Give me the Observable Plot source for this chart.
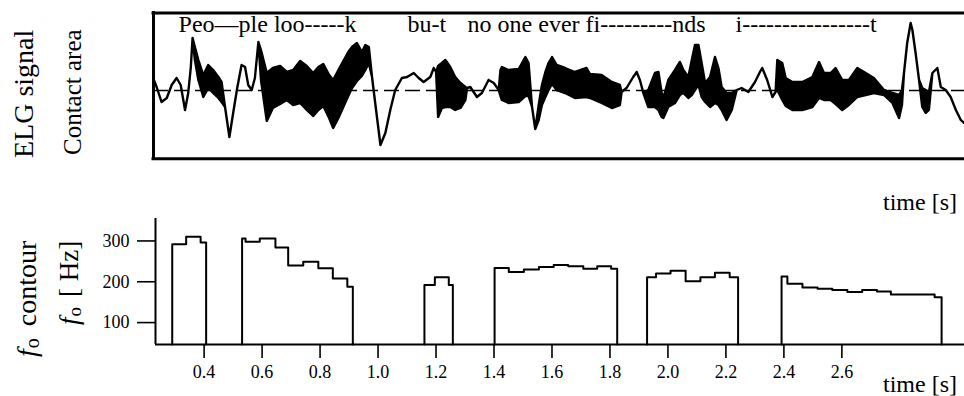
<!DOCTYPE html>
<html><head><meta charset="utf-8">
<script src="https://cdn.jsdelivr.net/npm/d3@7"></script>
<script src="https://cdn.jsdelivr.net/npm/@observablehq/plot@0.6"></script>
<style>
html,body{margin:0;padding:0;background:#fff;}
#wrap{position:relative;width:964px;height:396px;overflow:hidden;background:#fff;}
#wrap svg{position:absolute;left:0;top:0;}
#wrap svg text{font-family:'Liberation Serif','Times New Roman',serif;}
</style></head><body><div id="wrap"></div>
<script>
// ---- ELG signal (contact area): time [s], upper and lower envelope (arbitrary units, 0 = dashed line)
const elgTime = [
 0.226, 0.238, 0.255, 0.273, 0.290, 0.307, 0.321, 0.336, 0.347, 0.356,
 0.362, 0.370, 0.382, 0.399, 0.416, 0.433, 0.451, 0.462, 0.474, 0.489,
 0.502, 0.516, 0.531, 0.543, 0.554, 0.566, 0.577, 0.589, 0.598, 0.618,
 0.639, 0.664, 0.687, 0.709, 0.733, 0.756, 0.778, 0.796, 0.813, 0.833,
 0.847, 0.865, 0.882, 0.899, 0.912, 0.929, 0.946, 0.958, 0.970, 0.981,
 0.992, 1.010, 1.027, 1.044, 1.061, 1.084, 1.102, 1.125, 1.142, 1.159,
 1.182, 1.194, 1.202, 1.209, 1.222, 1.234, 1.251, 1.268, 1.286, 1.303,
 1.309, 1.320, 1.343, 1.360, 1.383, 1.401, 1.418, 1.424, 1.429, 1.452,
 1.487, 1.510, 1.521, 1.533, 1.544, 1.556, 1.567, 1.579, 1.590, 1.602,
 1.618, 1.647, 1.681, 1.721, 1.733, 1.773, 1.808, 1.836, 1.842, 1.859,
 1.882, 1.894, 1.905, 1.917, 1.934, 1.957, 1.969, 1.980, 1.986, 2.003,
 2.026, 2.043, 2.055, 2.072, 2.084, 2.095, 2.107, 2.118, 2.130, 2.147,
 2.164, 2.176, 2.187, 2.204, 2.222, 2.239, 2.256, 2.279, 2.302, 2.319,
 2.327, 2.344, 2.362, 2.373, 2.379, 2.396, 2.408, 2.431, 2.465, 2.500,
 2.523, 2.540, 2.563, 2.580, 2.603, 2.626, 2.655, 2.684, 2.712, 2.747,
 2.776, 2.799, 2.809, 2.816, 2.827, 2.839, 2.845, 2.856, 2.868, 2.879,
 2.891, 2.902, 2.914, 2.931, 2.943, 2.960, 2.977, 2.995, 3.012, 3.023
];
const elgHigh = [
 12, 3, -12, -8, 5, 12, 5, -20, -3, 23,
 52, 43, 30, 15, 25, 20, 13, 8, -17, -47,
 -23, 2, 25, 23, 5, 0, 12, 48, 40, 17,
 22, 24, 18, 20, 29, 24, 17, 23, 26, 15,
 10, 20, 29, 38, 43, 47, 38, 45, 43, 13,
 -13, -55, -43, -20, 0, 12, 13, 17, 12, 8,
 13, 22, 18, 24, 27, 30, 23, 13, 7, 3,
 2, 3, -7, -3, 10, 7, 0, 20, 23, 20,
 21, 33, 27, -17, -39, -15, 5, 18, 27, 33,
 25, 22, 18, 22, 16, 15, 8, 5, -2, 2,
 13, 18, 10, -3, 0, 17, 18, -3, -8, 10,
 20, 28, 20, 13, 30, 45, 45, 27, 7, 13,
 33, 22, 3, -3, -3, 0, 2, -2, 8, 18,
 22, 10, -7, -2, 30, 27, 12, 8, 8, 13,
 28, 17, 17, 22, 10, 10, 22, 17, 12, 0,
 -3, -5, 0, 17, 47, 67, 60, 37, 10, 2,
 0, -2, 17, 22, 3, 0, -7, -20, -30, -33
];
const elgLow = [
 12, 3, -12, -8, 5, 12, 5, -20, -3, 23,
 52, 30, 10, -7, 2, -3, -8, -12, -17, -47,
 -23, 2, 25, 23, 5, 0, 12, 48, 10, -31,
 -18, -14, -10, -15, -13, -20, -26, -20, -16, -28,
 -38, -28, -17, -6, 2, 9, 14, 20, 27, 13,
 -13, -55, -43, -20, 0, 12, 13, 17, 12, 8,
 13, 22, 18, -27, -18, -17, -17, -20, -18, -10,
 2, 3, -7, -3, 10, 7, 0, -6, -10, -13,
 -12, -6, -6, -17, -39, -30, -15, -7, 0, 6,
 0, -3, -8, -7, -8, -13, -18, -15, -2, 2,
 13, 18, 10, -3, -17, -17, -20, -27, -28, -17,
 -13, -5, -3, -8, -5, 0, 5, -7, -12, -17,
 -13, -15, -20, -30, -20, 0, 2, -2, 8, 18,
 22, 10, -7, -2, 0, -10, -16, -20, -20, -17,
 -8, -10, -10, -14, -20, -15, -7, -5, -3, -5,
 -13, -28, -15, 17, 47, 67, 60, 37, 10, -17,
 -23, -20, 17, 22, 3, 0, -7, -20, -30, -33
];
const lyrics = ["Peo\u2014ple loo-----k", "bu-t", "no one ever fi---------nds", "i----------------t"];
const lyricTime = [0.312, 1.102, 1.309, 2.233];

// ---- f0 contour: step start times [s] and f0 [Hz] per voiced stretch
const stepTimes = [
 [0.290, 0.338, 0.388],
 [0.531, 0.543, 0.592, 0.646, 0.690, 0.742, 0.794, 0.844, 0.894],
 [1.160, 1.196, 1.244],
 [1.402, 1.451, 1.503, 1.555, 1.606, 1.656, 1.708, 1.756, 1.804],
 [1.928, 1.959, 2.009, 2.061, 2.112, 2.162, 2.213],
 [2.392, 2.412, 2.464, 2.516, 2.567, 2.619, 2.670, 2.721, 2.769, 2.920]
];
const stepHz = [
 [292, 310, 296],
 [306, 298, 306, 284, 240, 249, 233, 208, 188],
 [192, 211, 192],
 [234, 224, 230, 236, 241, 238, 232, 238, 232],
 [211, 220, 227, 201, 211, 222, 211],
 [213, 195, 186, 183, 180, 175, 180, 176, 169, 162]
];
const voicedEnd = [0.407, 0.913, 1.258, 1.825, 2.242, 2.944];

const xTicks = [0.4, 0.6, 0.8, 1.0, 1.2, 1.4, 1.6, 1.8, 2.0, 2.2, 2.4, 2.6];
const yTicks = [100, 200, 300];

// ---- build
const serif = "'Liberation Serif', 'Times New Roman', serif";
const wrap = document.getElementById("wrap");

const elg = elgTime.map((t, i) => ({t, hi: elgHigh[i], lo: elgLow[i]}));
const topX = [0.2255, 3.023];
const topY = [-68.3, 77.5];

const topPlot = Plot.plot({
  width: 964, height: 396,
  marginLeft: 153, marginRight: 0, marginTop: 12.5, marginBottom: 237.7,
  x: {domain: topX, axis: null, label: null},
  y: {domain: topY, axis: null, label: null},
  style: {background: "transparent", fontFamily: serif, color: "black"},
  marks: [
    Plot.ruleY([0], {stroke: "black", strokeWidth: 1.3, strokeDasharray: "15,6"}),
    Plot.areaY(elg, {x: "t", y1: "lo", y2: "hi", fill: "black", stroke: "black", strokeWidth: 2.4, strokeLinejoin: "round"}),
    Plot.ruleY(topY, {stroke: "black", strokeWidth: 3, strokeLinecap: "square"}),
    Plot.ruleX([topX[0]], {stroke: "black", strokeWidth: 3, strokeLinecap: "square"}),
    Plot.text(lyrics, {x: (d, i) => lyricTime[i], text: d => d, frameAnchor: "top", lineAnchor: "top",
      textAnchor: "start", dy: 1.5, fontSize: 24, fontFamily: serif, fill: "black"})
  ]
});
wrap.appendChild(topPlot);

const botX = [0.2323, 3.023];
const botY = [46.3, 355];
const f0 = [];
stepTimes.forEach((ts, k) => {
  f0.push({k, t: ts[0], f: botY[0]});
  ts.forEach((t, j) => f0.push({k, t, f: stepHz[k][j]}));
  f0.push({k, t: voicedEnd[k], f: botY[0]});
});

const botPlot = Plot.plot({
  width: 964, height: 396,
  marginLeft: 155, marginRight: 0, marginTop: 218, marginBottom: 52,
  x: {domain: botX, label: null},
  y: {domain: botY, label: null},
  style: {background: "transparent", fontFamily: serif, fontSize: "18px", color: "black"},
  marks: [
    Plot.line(f0, {x: "t", y: "f", z: "k", curve: "step-after", stroke: "black", strokeWidth: 2}),
    Plot.ruleX([botX[0]], {stroke: "black", strokeWidth: 2}),
    Plot.ruleY([botY[0]], {stroke: "black", strokeWidth: 2}),
    Plot.axisX({ticks: xTicks, tickFormat: d3.format(".1f"), tickSize: 14, tickPadding: 7, fontSize: 18, fontFamily: serif, fill: "black", strokeWidth: 1.6, label: null}),
    Plot.axisY({ticks: yTicks, tickSize: 18, tickPadding: 8, fontSize: 18, fontFamily: serif, fill: "black", strokeWidth: 1.6, label: null})
  ]
});
wrap.appendChild(botPlot);

// ---- titles / axis names
const ov = d3.select(wrap).append("svg").attr("width", 964).attr("height", 396)
  .style("font-family", serif).style("pointer-events", "none");

ov.append("text").attr("x", 957).attr("y", 210).attr("text-anchor", "end").attr("font-size", 24).text("time [s]");
ov.append("text").attr("x", 957).attr("y", 392).attr("text-anchor", "end").attr("font-size", 24).text("time [s]");

ov.append("text").attr("transform", "translate(33,158) rotate(-90)").attr("font-size", 28).text("ELG signal");
ov.append("text").attr("transform", "translate(81,155) rotate(-90)").attr("font-size", 25).text("Contact area");

const fc = ov.append("text").attr("transform", "translate(36,357) rotate(-90)").attr("font-size", 28);
fc.append("tspan").attr("font-style", "italic").text("f");
fc.append("tspan").attr("font-size", 20).attr("dy", 3).attr("dx", 1).text("o");
fc.append("tspan").attr("dy", -3).attr("dx", 12).text("contour");

const fh = ov.append("text").attr("transform", "translate(78,325) rotate(-90)").attr("font-size", 27);
fh.append("tspan").attr("font-style", "italic").text("f");
fh.append("tspan").attr("font-size", 19).attr("dy", 3).attr("dx", 1).text("o");
fh.append("tspan").attr("dy", -3).attr("dx", 10).text("[ Hz]");
</script>
</body></html>
